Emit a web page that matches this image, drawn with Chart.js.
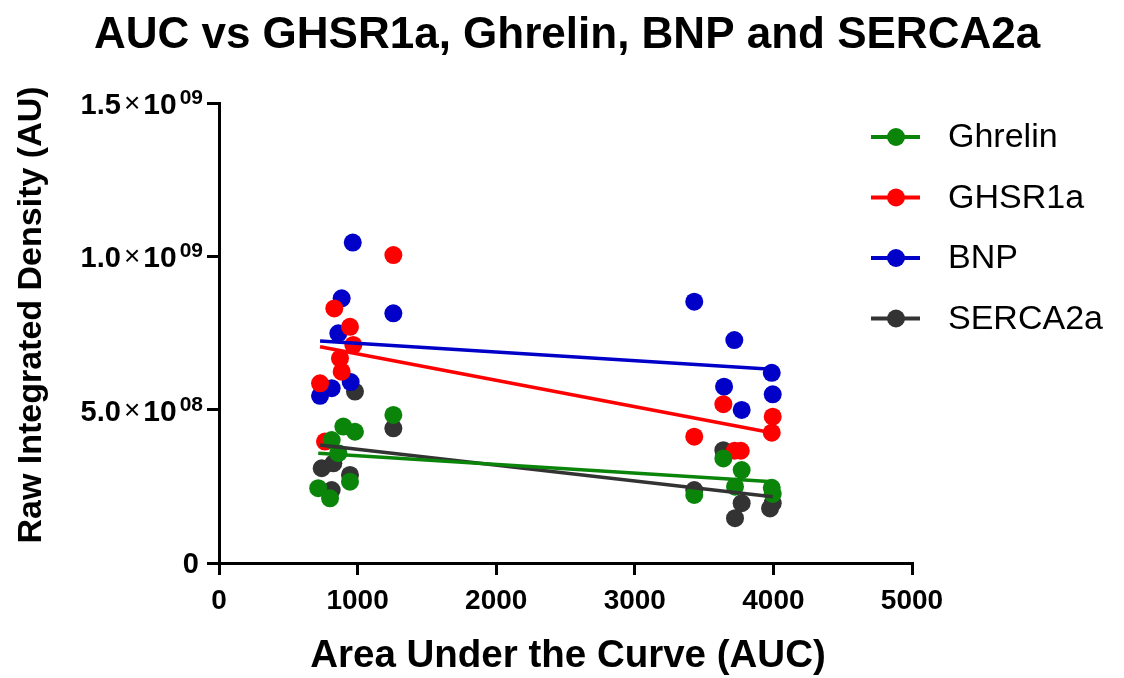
<!DOCTYPE html>
<html>
<head>
<meta charset="utf-8">
<script src="https://cdn.jsdelivr.net/npm/chart.js@4/dist/chart.umd.min.js"></script>
<style>
  html, body { margin: 0; padding: 0; background: #fff; }
  #wrap { width: 1124px; height: 678px; }
</style>
</head>
<body>
<div id="wrap"><canvas id="chart" width="1124" height="678"></canvas></div>
<script>
// AUC (x) vs raw integrated density (y)
const ghrelinX = [716, 801, 813, 861, 897, 945, 981, 1258, 3429, 3639, 3723, 3771, 3988, 3995];
const ghrelinY = [2.44e8, 2.11e8, 4.01e8, 3.58e8, 4.45e8, 2.65e8, 4.28e8, 4.83e8, 2.22e8, 3.41e8, 2.49e8, 3.03e8, 2.45e8, 2.25e8];

const ghsrX = [729, 765, 832, 873, 885, 945, 969, 1258, 3429, 3639, 3720, 3765, 3988, 3995];
const ghsrY = [5.86e8, 3.96e8, 8.30e8, 6.67e8, 6.24e8, 7.70e8, 7.11e8, 10.04e8, 4.12e8, 5.18e8, 3.66e8, 3.66e8, 4.25e8, 4.77e8];

const bnpX = [729, 813, 861, 885, 950, 965, 1258, 3429, 3644, 3718, 3771, 3988, 3995];
const bnpY = [5.45e8, 5.70e8, 7.49e8, 8.63e8, 5.90e8, 10.45e8, 8.14e8, 8.52e8, 5.75e8, 7.27e8, 4.99e8, 6.20e8, 5.50e8];

const sercaX = [741, 813, 825, 945, 981, 1258, 3429, 3639, 3723, 3771, 3976, 3995];
const sercaY = [3.09e8, 2.38e8, 3.25e8, 2.87e8, 5.59e8, 4.39e8, 2.38e8, 3.68e8, 1.46e8, 1.95e8, 1.78e8, 1.95e8];

// linear fit lines (end points)
const ghrelinFitX = [716, 3995], ghrelinFitY = [3.58e8, 2.65e8];
const ghsrFitX = [729, 3988],    ghsrFitY = [7.05e8, 4.25e8];
const bnpFitX = [729, 3988],     bnpFitY = [7.24e8, 6.32e8];
const sercaFitX = [729, 3995],   sercaFitY = [3.85e8, 2.16e8];

const seriesNames = ['Ghrelin', 'GHSR1a', 'BNP', 'SERCA2a'];
const xTicks = [0, 1000, 2000, 3000, 4000, 5000];
const yTicks = [0, 5e8, 1e9, 1.5e9];
const yTickMant = ['0', '5.0', '1.0', '1.5'];
const yTickExp = ['', '08', '09', '09'];

const COR = {
    green: '#0a850a',
    red:   '#ff0000',
    blue:  '#0000c8',
    black: '#333333',
};
const cores = [COR.green, COR.red, COR.blue, COR.black];
const FONT = '"Liberation Sans", Arial, sans-serif';

const pts = (xs, ys) => xs.map((x, i) => ({ x: x, y: ys[i] }));

function pontos(label, xs, ys, cor, ordem) {
    return {
        type: 'scatter', label: label, data: pts(xs, ys),
        backgroundColor: cor, borderWidth: 0,
        pointRadius: 9, pointHoverRadius: 9, order: ordem,
    };
}
function reta(xs, ys, cor) {
    return {
        type: 'line', label: '', data: pts(xs, ys),
        borderColor: cor, borderWidth: 3.5, pointRadius: 0,
        fill: false, order: 0,
    };
}

/* textos fora dos eixos: título, títulos dos eixos, ticks do y, legenda */
const textos = {
    id: 'textos',
    afterDraw(chart) {
        const ctx = chart.ctx;
        const ys = chart.scales.y;
        ctx.save();
        ctx.fillStyle = '#000';

        // título
        ctx.font = 'bold 44px ' + FONT;
        ctx.textAlign = 'center';
        ctx.textBaseline = 'middle';
        ctx.fillText('AUC vs GHSR1a, Ghrelin, BNP and SERCA2a', 567, 36);

        // título eixo x
        ctx.font = 'bold 38.5px ' + FONT;
        ctx.fillText('Area Under the Curve (AUC)', 568, 656);

        // título eixo y
        ctx.save();
        ctx.translate(32, 315);
        ctx.rotate(-Math.PI / 2);
        ctx.font = 'bold 34px ' + FONT;
        ctx.fillText('Raw Integrated Density (AU)', 0, 0);
        ctx.restore();

        // ticks do eixo y com expoente
        ctx.textAlign = 'left';
        ctx.textBaseline = 'alphabetic';
        const direita = 203;
        yTicks.forEach((v, i) => {
            const py = ys.getPixelForValue(v);
            if (!yTickExp[i]) {
                ctx.font = 'bold 29px ' + FONT;
                const w = ctx.measureText(yTickMant[i]).width;
                ctx.fillText(yTickMant[i], 199 - w, py + 10);
                return;
            }
            const partes = [
                { t: yTickMant[i], f: 'bold 29px ' + FONT, dy: 11 },
                { t: '\u00d7', f: '28px ' + FONT, dy: 9 },
                { t: '10', f: 'bold 30px ' + FONT, dy: 11 },
                { t: yTickExp[i], f: 'bold 21px ' + FONT, dy: 1 },
            ];
            const gap = 3;
            let total = 0;
            partes.forEach(p => { ctx.font = p.f; p.w = ctx.measureText(p.t).width; total += p.w + gap; });
            let x = direita - total + gap;
            partes.forEach(p => { ctx.font = p.f; ctx.fillText(p.t, x, py + p.dy); x += p.w + gap; });
        });

        // legenda
        ctx.font = '34px ' + FONT;
        ctx.textBaseline = 'middle';
        seriesNames.forEach((nome, i) => {
            const ly = 137 + i * 60.5;
            ctx.strokeStyle = cores[i];
            ctx.lineWidth = 4;
            ctx.beginPath();
            ctx.moveTo(871, ly);
            ctx.lineTo(920, ly);
            ctx.stroke();
            ctx.fillStyle = cores[i];
            ctx.beginPath();
            ctx.arc(896, ly, 9, 0, Math.PI * 2);
            ctx.fill();
            ctx.fillStyle = '#000';
            ctx.fillText(nome, 948, ly + 1);
        });
        ctx.restore();
    }
};

new Chart(document.getElementById('chart'), {
    data: {
        datasets: [
            reta(ghrelinFitX, ghrelinFitY, COR.green),
            reta(ghsrFitX, ghsrFitY, COR.red),
            reta(bnpFitX, bnpFitY, COR.blue),
            reta(sercaFitX, sercaFitY, COR.black),
            pontos(seriesNames[0], ghrelinX, ghrelinY, COR.green, 1),
            pontos(seriesNames[1], ghsrX, ghsrY, COR.red, 2),
            pontos(seriesNames[2], bnpX, bnpY, COR.blue, 3),
            pontos(seriesNames[3], sercaX, sercaY, COR.black, 4),
        ]
    },
    options: {
        responsive: false,
        animation: false,
        layout: { padding: { left: 0, right: 212, top: 103, bottom: 0 } },
        plugins: {
            legend: { display: false },
            title: { display: false },
            tooltip: { enabled: false },
        },
        scales: {
            x: {
                type: 'linear', min: 0, max: 5000,
                afterBuildTicks: s => { s.ticks = xTicks.map(v => ({ value: v })); },
                afterFit: s => { s.height = 115; },
                grid: { drawOnChartArea: false, drawTicks: true, tickLength: 12, color: '#000', lineWidth: 3 },
                border: { color: '#000', width: 3 },
                ticks: {
                    color: '#000', padding: 9,
                    font: { family: FONT, size: 28, weight: 'bold' },
                    callback: v => String(v),
                },
            },
            y: {
                type: 'linear', min: 0, max: 1.5e9,
                afterBuildTicks: s => { s.ticks = yTicks.map(v => ({ value: v })); },
                afterFit: s => { s.width = 219; },
                grid: { drawOnChartArea: false, drawTicks: true, tickLength: 12, color: '#000', lineWidth: 3 },
                border: { color: '#000', width: 3 },
                ticks: { display: false },
            }
        }
    },
    plugins: [textos]
});
</script>
</body>
</html>
